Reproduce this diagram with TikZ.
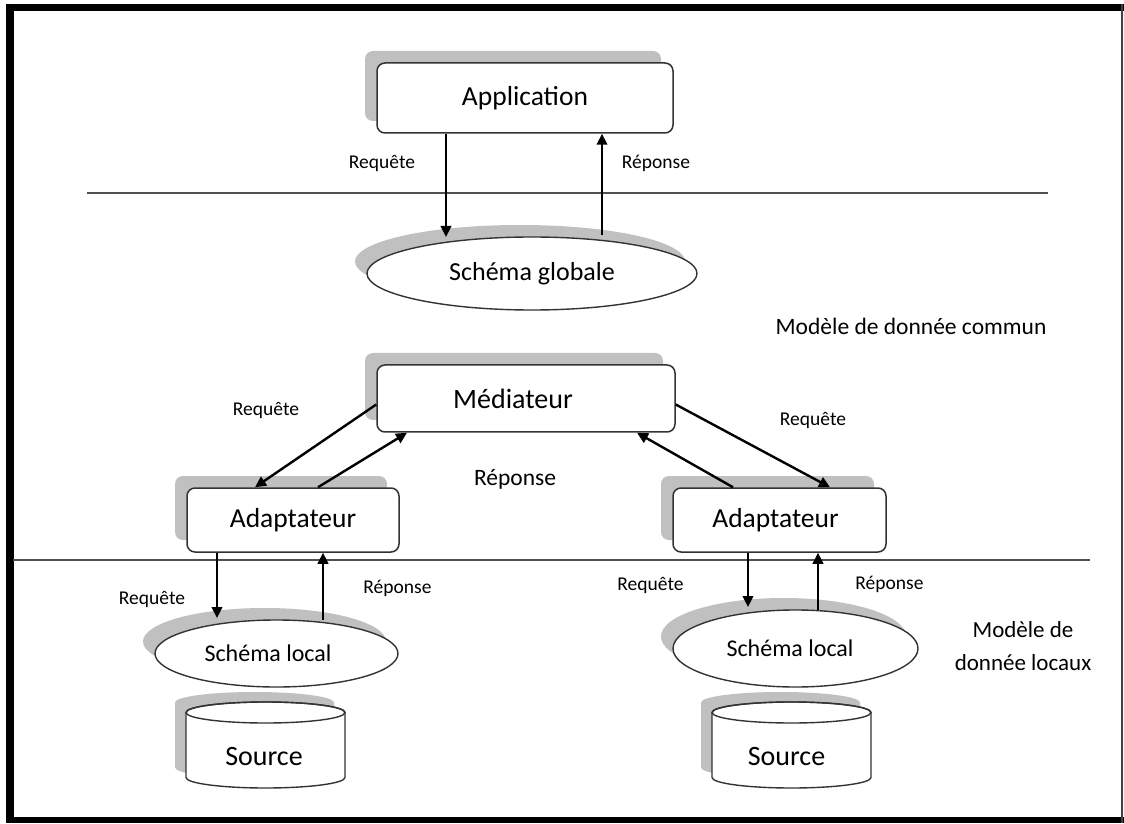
\documentclass[tikz,border=0pt]{standalone}
\usepackage{fontspec}
\setmainfont{Carlito}
\usetikzlibrary{arrows.meta,shapes.geometric,shadows,calc}
\definecolor{shadowgray}{HTML}{C0C0C0}
\definecolor{edge}{HTML}{333333}
\definecolor{rulegray}{HTML}{505050}
\begin{document}
\begin{tikzpicture}[x=1pt,y=1pt,
  fs/.style={font=\fontsize{#1}{#1}\selectfont},
  backshadow/.style={general shadow={fill=shadowgray, shadow xshift=-12pt, shadow yshift=12pt}},
  box/.style={draw=edge, line width=1.5pt, fill=white, rounded corners=8pt,
    inner sep=0pt, backshadow},
  oval/.style={ellipse, draw=edge, line width=1.4pt, fill=white, inner sep=0pt, backshadow},
  arr/.style={line width=2.4pt, -{Triangle[length=11pt,width=10.5pt]}},
  layer/.style={line width=1.5pt, draw=rulegray},
  note/.style={inner sep=0pt, fs=19.5},
  bignote/.style={inner sep=0pt, fs=23.5},
  drum/.pic={
    \fill[fill=shadowgray, shift={(-11,10)}] (-79.5,32.5) -- (-79.5,-32.5)
      arc[start angle=180, end angle=360, x radius=79.5, y radius=10.5]
      -- (79.5,32.5)
      arc[start angle=0, end angle=180, x radius=79.5, y radius=10.5] -- cycle;
    \filldraw[fill=white, draw=edge, line width=1.4pt] (-79.5,32.5) -- (-79.5,-32.5)
      arc[start angle=180, end angle=360, x radius=79.5, y radius=10.5]
      -- (79.5,32.5)
      arc[start angle=0, end angle=180, x radius=79.5, y radius=10.5] -- cycle;
    \draw[draw=edge, line width=1.4pt] (0,32.5) ellipse[x radius=79.5, y radius=10.5];
  }]

% page and frame
\useasboundingbox (0,0) rectangle (1124,823);
\fill[white] (0,0) rectangle (1124,823);
\fill[black] (6,0) rectangle (13.5,819);
\fill[black] (6,811.5) rectangle (1124,819);
\fill[black] (6,0) rectangle (1124,6.5);
\fill[black!75] (1121,0) rectangle (1123,819);

% layer separators
\coordinate (h1a) at (87,630);
\coordinate (h1b) at (1048,630);
\coordinate (h2a) at (13,263);
\coordinate (h2b) at (1090,263);
\draw[layer] (h1a) -- (h1b);
\draw[layer] (h2a) -- (h2b);

% components
\node[box, minimum width=296pt, minimum height=70pt, fs=27.5] (app) at (525,725) {Application};
\node[oval, minimum width=330pt, minimum height=73pt, fs=26] (sg) at (532,549.5) {Schéma globale};
\node[box, minimum width=298pt, minimum height=67pt, fs=28] (med) at (526,424.5) {Médiateur\hspace*{26pt}};
\node[box, minimum width=212pt, minimum height=64pt, fs=27.5] (adL) at (293,303) {Adaptateur};
\node[box, minimum width=213pt, minimum height=64pt, fs=27.5] (adR) at (779.5,303) {Adaptateur\hspace*{8pt}};
\node[oval, minimum width=243pt, minimum height=67pt, fs=24] (slL) at (276.5,169.5) {Schéma local\hspace*{17pt}};
\node[oval, minimum width=245pt, minimum height=77pt, fs=24] (slR) at (795.5,174.5) {Schéma local\hspace*{11pt}};

% data sources
\pic at (265.5,78) {drum};
\pic at (791.5,78) {drum};
\node[inner sep=0pt, fs=28] (srcL) at (264,66) {Source};
\node[inner sep=0pt, fs=28] (srcR) at (786.5,66) {Source};

% requests and answers
\draw[arr] ([xshift=-79pt]app.south) -- ($(sg.center)+(-86,36.5)$);
\draw[arr] ($(sg.center)+(70,38)$) -- ([xshift=77pt]app.south);
\draw[arr] ([yshift=-6pt]med.west) -- ([xshift=-38pt]adL.north);
\draw[arr] ([xshift=25pt]adL.north) -- ([xshift=-119pt]med.south);
\draw[arr] ([yshift=-6pt]med.east) -- ([xshift=50.5pt]adR.north);
\draw[arr] ([xshift=-46.5pt]adR.north) -- ([xshift=111pt]med.south);
\draw[arr] ([xshift=-76pt]adL.south) -- ($(slL.center)+(-59.5,35.5)$);
\draw[arr] ($(slL.center)+(46.5,33.5)$) -- ([xshift=30pt]adL.south);
\draw[arr] ([xshift=-31.5pt]adR.south) -- ($(slR.center)+(-47.5,41.5)$);
\draw[arr] ($(slR.center)+(22.5,38.5)$) -- ([xshift=38.5pt]adR.south);

% labels
\node[note] (q1) at (382,660) {Requête};
\node[note] (r1) at (656,660) {Réponse};
\node[bignote] (common) at (911,497) {Modèle de donnée commun};
\node[note] (q2) at (266,413) {Requête};
\node[bignote] (r2) at (515,344) {Réponse};
\node[note] (q3) at (813,403) {Requête};
\node[note] (q4) at (152,224) {Requête};
\node[note] (r4) at (397.5,235) {Réponse};
\node[note] (q5) at (650.5,238) {Requête};
\node[note] (r5) at (889.5,239) {Réponse};
\node[inner sep=0pt, align=center, font=\fontsize{23}{33}\selectfont] (local) at (1023,176.5) {Modèle de\\donnée locaux};
\end{tikzpicture}
\end{document}
